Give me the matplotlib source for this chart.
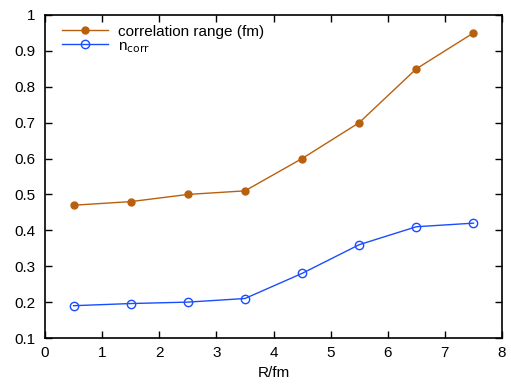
import matplotlib
matplotlib.use('Agg')
import matplotlib.pyplot as plt

R = [0.5, 1.5, 2.5, 3.5, 4.5, 5.5, 6.5, 7.5]
corr_range = [0.47, 0.48, 0.50, 0.51, 0.60, 0.70, 0.85, 0.95]
n_corr = [0.19, 0.196, 0.20, 0.21, 0.28, 0.36, 0.41, 0.42]

plt.rcParams['font.family'] = ['Liberation Sans', 'DejaVu Sans']
plt.rcParams['font.size'] = 11

fig = plt.figure(figsize=(5.11, 3.85), dpi=100)
ax = fig.add_axes([45/511, 1-338/385, (502-45)/511, (338-15)/385])

ax.plot(R, corr_range, color='#b8600e', marker='o', markersize=5, linewidth=1,
        label='correlation range (fm)')
ax.plot(R, n_corr, color='#1a4dff', marker='o', markersize=6, markerfacecolor='none',
        linewidth=1, label=r'n$_{\mathrm{corr}}$')

ax.set_xlim(0, 8)
ax.set_ylim(0.1, 1)
ax.set_xticks(range(0, 9))
ax.set_yticks([0.1, 0.2, 0.3, 0.4, 0.5, 0.6, 0.7, 0.8, 0.9, 1])
ax.set_yticklabels(['0.1', '0.2', '0.3', '0.4', '0.5', '0.6', '0.7', '0.8', '0.9', '1'])
ax.tick_params(direction='in', top=True, right=True, length=5, width=1)
ax.tick_params(axis='x', pad=6)
ax.tick_params(axis='y', pad=7)
for s in ax.spines.values():
    s.set_linewidth(1.2)
ax.set_xlabel('R/fm', labelpad=4)

# legend sits close to the top frame, like gnuplot's key
ax.legend(loc='upper left', bbox_to_anchor=(0, 1 + 7/323), frameon=False,
          handlelength=3, borderaxespad=0.7, labelspacing=0.0, handletextpad=0.7)

fig.savefig('out.png', dpi=100)
